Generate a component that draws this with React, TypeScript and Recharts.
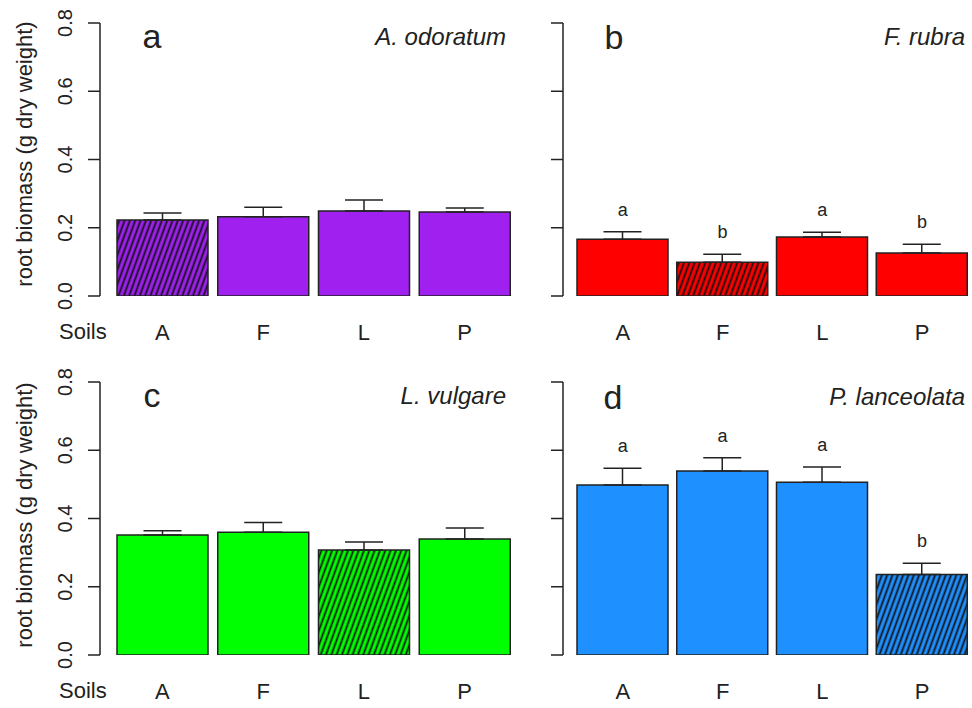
import * as React from "react";
import {
  Bar,
  Cell,
  ComposedChart,
  ErrorBar,
  LabelList,
  Line,
  XAxis,
  YAxis,
} from "recharts";

// four soils, one panel per plant species
const soils = ["A", "F", "L", "P"];
const yTicks = [0, 0.2, 0.4, 0.6, 0.8];

const odoratumMean = [0.223, 0.232, 0.249, 0.246];
const odoratumSe = [0.02, 0.028, 0.032, 0.012];

const rubraMean = [0.166, 0.099, 0.173, 0.126];
const rubraSe = [0.022, 0.023, 0.014, 0.026];
const rubraSig = ["a", "b", "a", "b"];

const vulgareMean = [0.352, 0.36, 0.308, 0.34];
const vulgareSe = [0.012, 0.028, 0.023, 0.032];

const lanceolataMean = [0.498, 0.539, 0.506, 0.236];
const lanceolataSe = [0.049, 0.039, 0.045, 0.033];
const lanceolataSig = ["a", "a", "a", "b"];

const FONT = '"Liberation Sans", Arial, Helvetica, sans-serif';
const INK = "#222222";

const COLORS = {
  purple: "#A020F0",
  red: "#FF0000",
  green: "#00FF00",
  blue: "#1E90FF",
};

interface PanelProps {
  left: number;
  top: number;
  width: number;
  padLeft: number;
  padRight: number;
  marginRight: number;
  color: string;
  hatchId: string;
  hatched: number;
  mean: number[];
  se: number[];
  sig?: string[];
  showTickLabels: boolean;
}

// rotated y tick labels (R style, las = 0)
const YTick = (props: any) => {
  const { x, y, payload, show } = props;
  if (!show) return <g />;
  const bx = x - 14;
  return (
    <text
      x={bx}
      y={y}
      transform={`rotate(-90 ${bx} ${y})`}
      textAnchor="middle"
      fontSize={20}
      fontFamily={FONT}
      fill={INK}
    >
      {Number(payload.value).toFixed(1)}
    </text>
  );
};

function Panel(p: PanelProps) {
  const data = soils.map((s, i) => ({
    soil: s,
    mean: p.mean[i],
    err: [0, p.se[i]],
    top: p.mean[i] + p.se[i],
    sig: p.sig ? p.sig[i] : "",
  }));

  return (
    <div style={{ position: "absolute", left: p.left, top: p.top }}>
      <ComposedChart
        width={p.width}
        height={350}
        data={data}
        margin={{ top: 23, right: p.marginRight, bottom: 14, left: 40 }}
      >
        <XAxis
          dataKey="soil"
          height={40}
          axisLine={false}
          tickLine={false}
          tickSize={0}
          tickMargin={28}
          padding={{ left: p.padLeft, right: p.padRight }}
          tick={{ fontSize: 22, fontFamily: FONT, fill: INK }}
          interval={0}
        />
        <YAxis
          width={60}
          domain={[0, 0.8]}
          ticks={yTicks}
          tickSize={12}
          axisLine={{ stroke: INK, strokeWidth: 1.5 }}
          tickLine={{ stroke: INK, strokeWidth: 1.5 }}
          tick={<YTick show={p.showTickLabels} />}
          allowDataOverflow
        />
        <Bar
          dataKey="mean"
          barSize={91}
          stroke={INK}
          strokeWidth={1.5}
          isAnimationActive={false}
        >
          {data.map((_, i) => (
            <Cell
              key={i}
              fill={i === p.hatched ? `url(#${p.hatchId})` : p.color}
            />
          ))}
          <ErrorBar
            dataKey="err"
            width={19}
            stroke={INK}
            strokeWidth={1.5}
            direction="y"
            isAnimationActive={false}
          />
        </Bar>
        {p.sig ? (
          <Line
            dataKey="top"
            stroke="none"
            dot={false}
            activeDot={false}
            isAnimationActive={false}
          >
            <LabelList
              dataKey="sig"
              position="top"
              offset={16}
              fontSize={18}
              fontFamily={FONT}
              fill={INK}
            />
          </Line>
        ) : null}
      </ComposedChart>
    </div>
  );
}

const hatchDefs = [
  { id: "hatch-purple", color: COLORS.purple },
  { id: "hatch-red", color: COLORS.red },
  { id: "hatch-green", color: COLORS.green },
  { id: "hatch-blue", color: COLORS.blue },
];

export default function App() {
  const txt = { fontFamily: FONT, fill: INK } as const;
  return (
    <div
      style={{
        position: "absolute",
        left: 0,
        top: 0,
        width: 972,
        height: 708,
        background: "#FFFFFF",
        overflow: "hidden",
      }}
    >
      <svg width={0} height={0} style={{ position: "absolute" }}>
        <defs>
          {hatchDefs.map((h) => (
            <pattern
              key={h.id}
              id={h.id}
              patternUnits="userSpaceOnUse"
              width={5}
              height={5}
              patternTransform="rotate(20)"
            >
              <rect width={5} height={5} fill={h.color} />
              <line x1={2.5} y1={0} x2={2.5} y2={5} stroke="#111" strokeWidth={1.8} />
            </pattern>
          ))}
        </defs>
      </svg>

      <Panel
        left={0}
        top={0}
        width={530}
        padLeft={12}
        padRight={11}
        marginRight={4}
        color={COLORS.purple}
        hatchId="hatch-purple"
        hatched={0}
        mean={odoratumMean}
        se={odoratumSe}
        showTickLabels
      />
      <Panel
        left={463}
        top={0}
        width={509}
        padLeft={10}
        padRight={0}
        marginRight={0}
        color={COLORS.red}
        hatchId="hatch-red"
        hatched={1}
        mean={rubraMean}
        se={rubraSe}
        sig={rubraSig}
        showTickLabels={false}
      />
      <Panel
        left={0}
        top={359}
        width={530}
        padLeft={12}
        padRight={11}
        marginRight={4}
        color={COLORS.green}
        hatchId="hatch-green"
        hatched={2}
        mean={vulgareMean}
        se={vulgareSe}
        showTickLabels
      />
      <Panel
        left={463}
        top={359}
        width={509}
        padLeft={10}
        padRight={0}
        marginRight={0}
        color={COLORS.blue}
        hatchId="hatch-blue"
        hatched={3}
        mean={lanceolataMean}
        se={lanceolataSe}
        sig={lanceolataSig}
        showTickLabels={false}
      />

      {/* panel titles, axis titles and the "Soils" row label */}
      <svg
        width={972}
        height={708}
        style={{ position: "absolute", left: 0, top: 0, pointerEvents: "none" }}
      >
        <text x={32} y={154} transform="rotate(-90 32 154)" textAnchor="middle" fontSize={22} {...txt}>
          root biomass (g dry weight)
        </text>
        <text x={32} y={515} transform="rotate(-90 32 515)" textAnchor="middle" fontSize={22} {...txt}>
          root biomass (g dry weight)
        </text>

        <text x={59} y={339} fontSize={22} {...txt}>Soils</text>
        <text x={59} y={698} fontSize={22} {...txt}>Soils</text>

        <text x={152} y={48} textAnchor="middle" fontSize={34} {...txt}>a</text>
        <text x={614} y={49} textAnchor="middle" fontSize={34} {...txt}>b</text>
        <text x={152} y={407} textAnchor="middle" fontSize={34} {...txt}>c</text>
        <text x={613} y={409} textAnchor="middle" fontSize={34} {...txt}>d</text>

        <text x={506} y={45} textAnchor="end" fontSize={24} fontStyle="italic" {...txt}>A. odoratum</text>
        <text x={965} y={45} textAnchor="end" fontSize={24} fontStyle="italic" {...txt}>F. rubra</text>
        <text x={506} y={404} textAnchor="end" fontSize={24} fontStyle="italic" {...txt}>L. vulgare</text>
        <text x={965} y={405} textAnchor="end" fontSize={24} fontStyle="italic" {...txt}>P. lanceolata</text>
      </svg>
    </div>
  );
}
